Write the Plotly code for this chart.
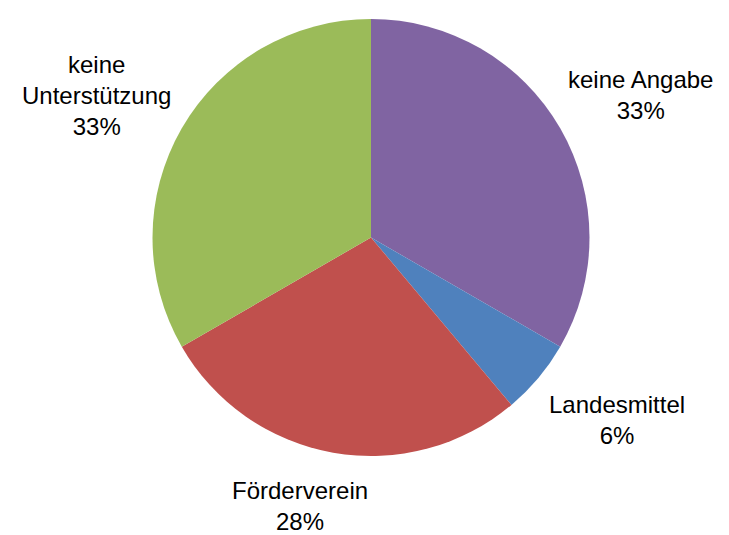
import plotly.graph_objects as go

# Data
labels = ["keine Angabe", "Landesmittel", "Förderverein", "keine Unterstützung"]
values = [6, 1, 5, 6]
colors = ["#8064A2", "#4F81BD", "#C0504D", "#9BBB59"]

W, H = 729, 535
total = sum(values)
percents = [round(v / total * 100) for v in values]

# label block centres in pixels (layout)
label_pos = [(640, 95), (617, 420), (300, 506), (96, 96)]
label_text = [
    "keine Angabe",
    "Landesmittel",
    "Förderverein",
    "keine<br>Unterstützung",
]

cx, cy, diam = 371, 237.5, 437
dx = 0.31
dom_x = [cx / W - dx, cx / W + dx]
dom_y = [(H - cy - diam / 2) / H, (H - cy + diam / 2) / H]

fig = go.Figure(
    go.Pie(
        labels=labels,
        values=values,
        marker=dict(colors=colors, line=dict(width=0)),
        sort=False,
        direction="clockwise",
        rotation=0,
        textinfo="none",
        hoverinfo="label+percent",
        domain=dict(x=dom_x, y=dom_y),
        showlegend=False,
    )
)

annotations = []
for (px, py), t, p in zip(label_pos, label_text, percents):
    annotations.append(
        dict(
            x=px / W,
            y=1 - py / H,
            xref="paper",
            yref="paper",
            xanchor="center",
            yanchor="middle",
            text=f"{t}<br>{p}%",
            showarrow=False,
            align="center",
            font=dict(family="Liberation Sans, Arial, sans-serif", size=24, color="#000000"),
        )
    )

fig.update_layout(
    width=W,
    height=H,
    margin=dict(l=0, r=0, t=0, b=0),
    paper_bgcolor="white",
    plot_bgcolor="white",
    annotations=annotations,
)

fig.write_html(
    "out.html",
    config={"displayModeBar": False},
    post_script="document.body.style.margin='0';document.body.style.padding='0';",
)
